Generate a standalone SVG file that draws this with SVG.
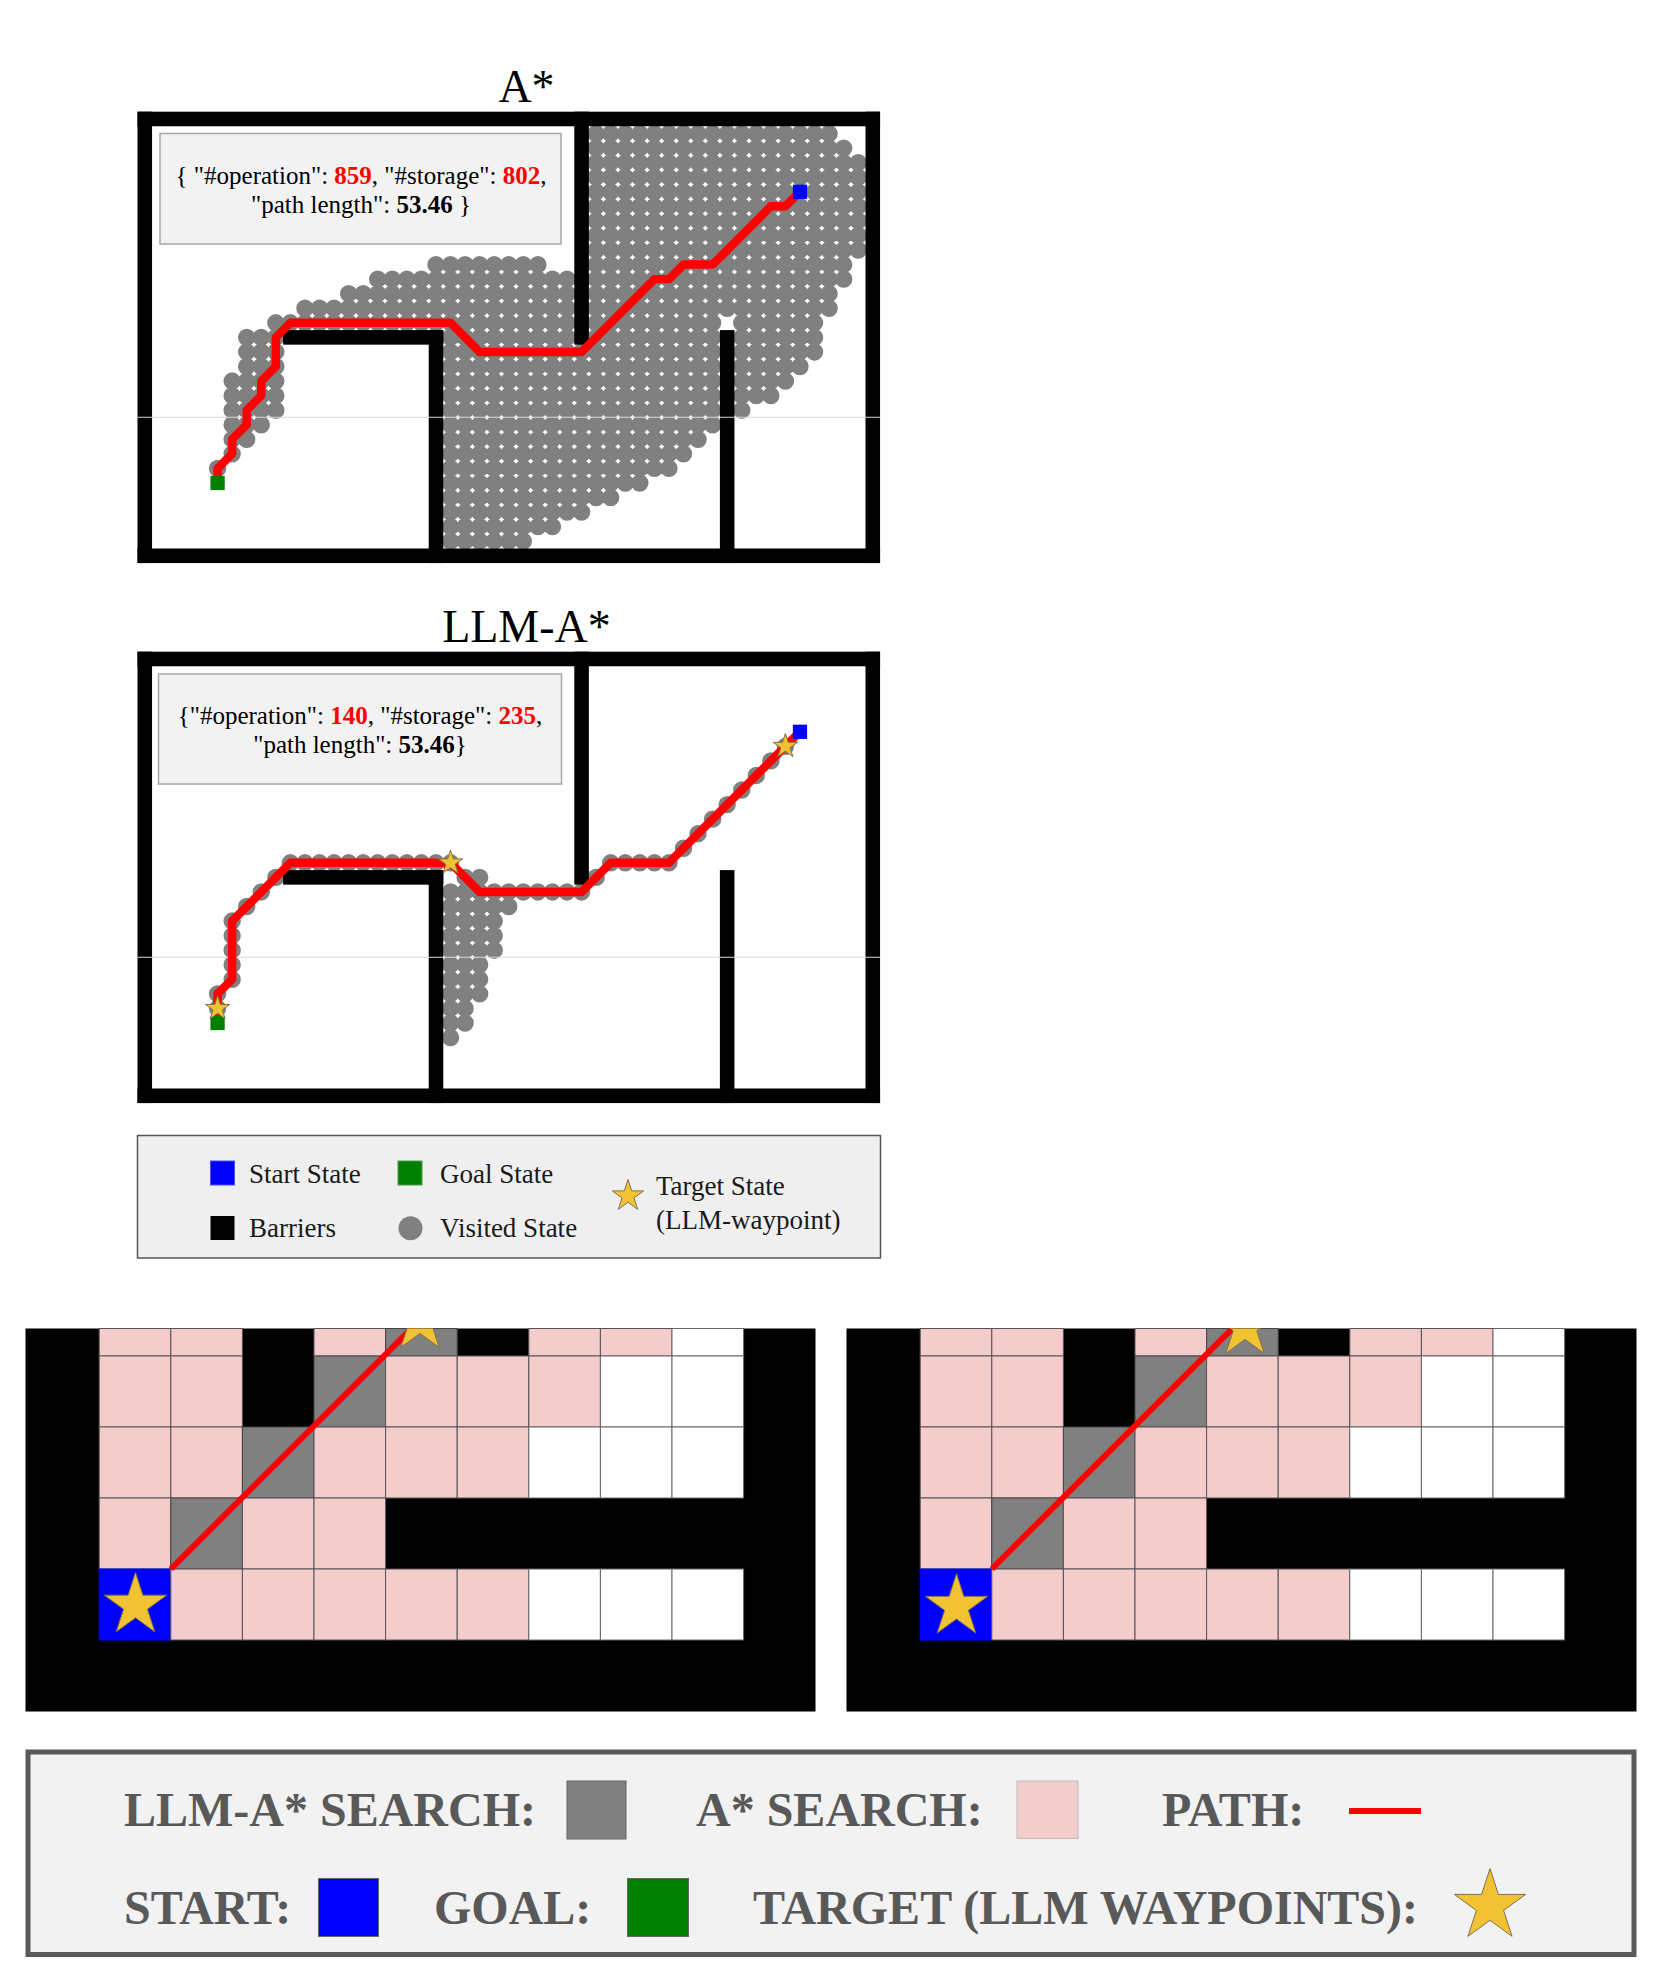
<svg xmlns="http://www.w3.org/2000/svg" width="1661" height="1985" viewBox="0 0 1661 1985">
<defs>
<style>
.serif{font-family:"Liberation Serif","Times New Roman",serif}
.wall{fill:#000}
.v{fill:none;stroke:#808080;stroke-width:1.195;stroke-linecap:round;stroke-dasharray:0 1}
.vd{fill:none;stroke:#808080;stroke-width:1.195;stroke-linecap:round;stroke-dasharray:0 1.41421356}
.vc{fill:#808080}
.route{fill:none;stroke:#ff0000;stroke-width:0.58;stroke-linejoin:round;stroke-linecap:round}
.seam{stroke:#d8d8d8;stroke-width:1.1}
.info{fill:#f2f2f2;stroke:#a6a6a6;stroke-width:1.5}
.num{fill:#ff0000;font-weight:bold}
.b{font-weight:bold}
.star{fill:#f1c232;stroke:#807050}
.pink{fill:#f4cccc;stroke:#555;stroke-width:1}
.gcell{fill:#808080;stroke:#444;stroke-width:1}
.wcell{fill:#fff;stroke:#666;stroke-width:1}
.bcell{fill:#0000ff;stroke:#0000ff;stroke-width:1}
.lg1{font-family:"Liberation Serif","Times New Roman",serif;font-size:27px;fill:#1a1a1a}
.lg2{font-family:"Liberation Serif","Times New Roman",serif;font-weight:bold;font-size:48px;fill:#595959}
.pathline{stroke:#ff0000;stroke-width:6}
</style>
<path id="star" d="M0,-1 L0.2245,-0.309 L0.951,-0.309 L0.3633,0.118 L0.588,0.809 L0,0.382 L-0.588,0.809 L-0.3633,0.118 L-0.951,-0.309 L-0.2245,-0.309 Z" vector-effect="non-scaling-stroke" stroke-width="1"/>
<g id="walls" class="wall">
<rect x="-0.5" y="-0.5" width="51" height="1"/>
<rect x="-0.5" y="29.5" width="51" height="1"/>
<rect x="-0.5" y="-0.5" width="1" height="31"/>
<rect x="49.5" y="-0.5" width="1" height="31"/>
<rect x="9.5" y="14.5" width="11" height="1"/>
<rect x="19.5" y="-0.5" width="1" height="16"/>
<rect x="29.5" y="14.5" width="1" height="16"/>
<rect x="39.5" y="-0.5" width="1" height="16"/>
</g>
<g id="cells">
<rect class="pink" x="99.2" y="1328.5" width="71.6" height="27.5"/>
<rect class="pink" x="170.8" y="1328.5" width="71.6" height="27.5"/>
<rect class="pink" x="314" y="1328.5" width="71.6" height="27.5"/>
<rect class="gcell" x="385.6" y="1328.5" width="71.6" height="27.5"/>
<rect class="pink" x="528.8" y="1328.5" width="71.6" height="27.5"/>
<rect class="pink" x="600.4" y="1328.5" width="71.6" height="27.5"/>
<rect class="wcell" x="672" y="1328.5" width="71.6" height="27.5"/>
<rect class="pink" x="99.2" y="1356" width="71.6" height="71"/>
<rect class="pink" x="170.8" y="1356" width="71.6" height="71"/>
<rect class="gcell" x="314" y="1356" width="71.6" height="71"/>
<rect class="pink" x="385.6" y="1356" width="71.6" height="71"/>
<rect class="pink" x="457.2" y="1356" width="71.6" height="71"/>
<rect class="pink" x="528.8" y="1356" width="71.6" height="71"/>
<rect class="wcell" x="600.4" y="1356" width="71.6" height="71"/>
<rect class="wcell" x="672" y="1356" width="71.6" height="71"/>
<rect class="pink" x="99.2" y="1427" width="71.6" height="71"/>
<rect class="pink" x="170.8" y="1427" width="71.6" height="71"/>
<rect class="gcell" x="242.4" y="1427" width="71.6" height="71"/>
<rect class="pink" x="314" y="1427" width="71.6" height="71"/>
<rect class="pink" x="385.6" y="1427" width="71.6" height="71"/>
<rect class="pink" x="457.2" y="1427" width="71.6" height="71"/>
<rect class="wcell" x="528.8" y="1427" width="71.6" height="71"/>
<rect class="wcell" x="600.4" y="1427" width="71.6" height="71"/>
<rect class="wcell" x="672" y="1427" width="71.6" height="71"/>
<rect class="pink" x="99.2" y="1498" width="71.6" height="71"/>
<rect class="gcell" x="170.8" y="1498" width="71.6" height="71"/>
<rect class="pink" x="242.4" y="1498" width="71.6" height="71"/>
<rect class="pink" x="314" y="1498" width="71.6" height="71"/>
<rect class="bcell" x="99.2" y="1569" width="71.6" height="71"/>
<rect class="pink" x="170.8" y="1569" width="71.6" height="71"/>
<rect class="pink" x="242.4" y="1569" width="71.6" height="71"/>
<rect class="pink" x="314" y="1569" width="71.6" height="71"/>
<rect class="pink" x="385.6" y="1569" width="71.6" height="71"/>
<rect class="pink" x="457.2" y="1569" width="71.6" height="71"/>
<rect class="wcell" x="528.8" y="1569" width="71.6" height="71"/>
<rect class="wcell" x="600.4" y="1569" width="71.6" height="71"/>
<rect class="wcell" x="672" y="1569" width="71.6" height="71"/>
</g>
<clipPath id="clipL"><rect x="25.5" y="1328.5" width="790" height="383"/></clipPath>
<clipPath id="clipR"><rect x="846.5" y="1328.5" width="790" height="383"/></clipPath>
</defs>
<rect width="1661" height="1985" fill="#fff"/>

<g id="title-astar"><text class="serif" x="526.5" y="102" font-size="46" text-anchor="middle" fill="#000">A*</text></g>

<g id="map-astar">
<rect x="137.5" y="111.7" width="743" height="451.4" fill="#fff"/>
<g transform="translate(144.78 555.78) scale(14.56 -14.56)">
<g id="astar-visited" class="v">
<line x1="31" y1="29" x2="47.001" y2="29"/>
<line x1="31" y1="28" x2="48.001" y2="28"/>
<line x1="31" y1="27" x2="49.001" y2="27"/>
<line x1="31" y1="26" x2="49.001" y2="26"/>
<line x1="31" y1="25" x2="49.001" y2="25"/>
<line x1="31" y1="24" x2="49.001" y2="24"/>
<line x1="31" y1="23" x2="49.001" y2="23"/>
<line x1="31" y1="22" x2="49.001" y2="22"/>
<line x1="31" y1="21" x2="49.001" y2="21"/>
<line x1="20" y1="20" x2="27.001" y2="20"/>
<line x1="31" y1="20" x2="48.001" y2="20"/>
<line x1="16" y1="19" x2="48.001" y2="19"/>
<line x1="14" y1="18" x2="47.001" y2="18"/>
<line x1="11" y1="17" x2="47.001" y2="17"/>
<line x1="9" y1="16" x2="39.001" y2="16"/>
<line x1="41" y1="16" x2="46.001" y2="16"/>
<line x1="7" y1="15" x2="9.001" y2="15"/>
<line x1="21" y1="15" x2="39.001" y2="15"/>
<line x1="41" y1="15" x2="46.001" y2="15"/>
<line x1="7" y1="14" x2="9.001" y2="14"/>
<line x1="21" y1="14" x2="39.001" y2="14"/>
<line x1="41" y1="14" x2="46.001" y2="14"/>
<line x1="7" y1="13" x2="9.001" y2="13"/>
<line x1="21" y1="13" x2="39.001" y2="13"/>
<line x1="41" y1="13" x2="45.001" y2="13"/>
<line x1="6" y1="12" x2="9.001" y2="12"/>
<line x1="21" y1="12" x2="39.001" y2="12"/>
<line x1="41" y1="12" x2="44.001" y2="12"/>
<line x1="6" y1="11" x2="9.001" y2="11"/>
<line x1="21" y1="11" x2="39.001" y2="11"/>
<line x1="41" y1="11" x2="43.001" y2="11"/>
<line x1="6" y1="10" x2="9.001" y2="10"/>
<line x1="21" y1="10" x2="39.001" y2="10"/>
<line x1="6" y1="9" x2="8.001" y2="9"/>
<line x1="21" y1="9" x2="39.001" y2="9"/>
<line x1="6" y1="8" x2="7.001" y2="8"/>
<line x1="21" y1="8" x2="38.001" y2="8"/>
<line x1="21" y1="7" x2="37.001" y2="7"/>
<line x1="21" y1="6" x2="36.001" y2="6"/>
<line x1="21" y1="5" x2="34.001" y2="5"/>
<line x1="21" y1="4" x2="32.001" y2="4"/>
<line x1="21" y1="3" x2="30.001" y2="3"/>
<line x1="21" y1="2" x2="28.001" y2="2"/>
<line x1="21" y1="1" x2="26.001" y2="1"/>
</g>
<g class="vc">
<circle cx="41" cy="10" r="0.5975"/>
<circle cx="6" cy="7" r="0.5975"/>
<circle cx="5" cy="6" r="0.5975"/>
</g>
<use href="#walls"/>
</g>
<line class="seam" x1="137.5" y1="417.3" x2="880.5" y2="417.3"/>
<g transform="translate(144.78 555.78) scale(14.56 -14.56)">
<polyline id="astar-path" class="route" points="5,5 5,6 6,7 6,8 7,9 7,10 8,11 8,12 9,13 9,15 10,16 21,16 23,14 30,14 35,19 36,19 37,20 39,20 43,24 44,24 45,25"/>
<rect x="44.51" y="24.51" width="0.98" height="0.98" fill="#0000ff"/>
<rect x="4.51" y="4.51" width="0.98" height="0.98" fill="#008000"/>
</g>
<rect class="info" x="160" y="133.5" width="401" height="110.5"/>
<text class="serif" x="361" y="183.5" font-size="25" text-anchor="middle" fill="#000">{ "#operation": <tspan class="num">859</tspan>, "#storage": <tspan class="num">802</tspan>,</text>
<text class="serif" x="361" y="212.5" font-size="25" text-anchor="middle" fill="#000">"path length": <tspan class="b">53.46</tspan> }</text>
</g>

<g id="title-llm"><text class="serif" x="526.5" y="642" font-size="46" text-anchor="middle" fill="#000">LLM-A*</text></g>

<g id="map-llm">
<rect x="137.5" y="651.7" width="743" height="451.4" fill="#fff"/>
<g transform="translate(144.78 1095.78) scale(14.56 -14.56)">
<g id="llm-visited" class="v">
<line x1="5" y1="6" x2="5" y2="7.001"/>
<line x1="6" y1="8" x2="6" y2="12.001"/>
<line x1="10" y1="16" x2="21.001" y2="16"/>
<line x1="32" y1="16" x2="36.001" y2="16"/>
<line x1="22" y1="15" x2="23.001" y2="15"/>
<line x1="21" y1="14" x2="30.001" y2="14"/>
<line x1="21" y1="13" x2="25.001" y2="13"/>
<line x1="21" y1="12" x2="24.001" y2="12"/>
<line x1="21" y1="11" x2="24.001" y2="11"/>
<line x1="21" y1="10" x2="24.001" y2="10"/>
<line x1="21" y1="9" x2="23.001" y2="9"/>
<line x1="21" y1="8" x2="23.001" y2="8"/>
<line x1="21" y1="7" x2="23.001" y2="7"/>
<line x1="21" y1="6" x2="22.001" y2="6"/>
<line x1="21" y1="5" x2="22.001" y2="5"/>
</g>
<g class="vd">
<line x1="7" y1="13" x2="9.001" y2="15.001"/>
<line x1="37" y1="17" x2="44.001" y2="24.001"/>
</g>
<g class="vc">
<circle cx="31" cy="15" r="0.5975"/>
<circle cx="21" cy="4" r="0.5975"/>
</g>
<use href="#walls"/>
</g>
<line class="seam" x1="137.5" y1="957.3" x2="880.5" y2="957.3"/>
<g transform="translate(144.78 1095.78) scale(14.56 -14.56)">
<polyline id="llm-path" class="route" points="5,5 5,7 6,8 6,12 10,16 21,16 23,14 30,14 32,16 36,16 44,24 45,25"/>
<rect x="44.51" y="24.51" width="0.98" height="0.98" fill="#0000ff"/>
<rect x="4.51" y="4.51" width="0.98" height="0.98" fill="#008000"/>
</g>
<use href="#star" class="star" transform="translate(217.6 1008.4) scale(12.8)"/>
<use href="#star" class="star" transform="translate(450.5 862.8) scale(12.8)"/>
<use href="#star" class="star" transform="translate(785.4 746.3) scale(12.8)"/>
<rect class="info" x="158.5" y="674" width="403" height="110"/>
<text class="serif" x="360" y="723.5" font-size="25" text-anchor="middle" fill="#000">{"#operation": <tspan class="num">140</tspan>, "#storage": <tspan class="num">235</tspan>,</text>
<text class="serif" x="360" y="752.5" font-size="25" text-anchor="middle" fill="#000">"path length": <tspan class="b">53.46</tspan>}</text>
</g>

<g id="legend-top">
<rect x="137.5" y="1135.5" width="743" height="122.5" fill="#efefef" stroke="#555" stroke-width="1.5"/>
<rect x="210.5" y="1161" width="24" height="24" fill="#0000ff" stroke="#4d4dff" stroke-width="1"/>
<text class="lg1" x="249" y="1182.5">Start State</text>
<rect x="398" y="1161" width="24" height="24" fill="#008000" stroke="#4d994d" stroke-width="1"/>
<text class="lg1" x="440" y="1182.5">Goal State</text>
<rect x="210.5" y="1216" width="24" height="24" fill="#000"/>
<text class="lg1" x="249" y="1237">Barriers</text>
<circle cx="410.5" cy="1228.3" r="12" fill="#808080"/>
<text class="lg1" x="440" y="1237">Visited State</text>
<use href="#star" class="star" transform="translate(628 1196) scale(16.5)"/>
<text class="lg1" x="656" y="1195">Target State</text>
<text class="lg1" x="656" y="1229">(LLM-waypoint)</text>
</g>

<g id="panel-left">
<rect x="25.5" y="1328.5" width="790" height="383" fill="#000"/>
<use href="#cells"/>
<g clip-path="url(#clipL)">
<line class="pathline" x1="170.8" y1="1569" x2="420" y2="1320"/>
<use href="#star" class="star" transform="translate(420 1321) scale(32.5)"/>
</g>
<use href="#star" class="star" transform="translate(135.5 1605.3) scale(32.8)"/>
</g>

<g id="panel-right">
<rect x="846.5" y="1328.5" width="790" height="383" fill="#000"/>
<use href="#cells" x="821"/>
<g clip-path="url(#clipR)">
<line class="pathline" x1="991.8" y1="1569" x2="1245" y2="1315.8"/>
<use href="#star" class="star" transform="translate(1245 1327) scale(32.5)"/>
</g>
<use href="#star" class="star" transform="translate(956.5 1606.5) scale(32.8)"/>
</g>

<g id="legend-bottom">
<rect x="28" y="1752" width="1606" height="202.5" fill="#f2f2f2" stroke="#595959" stroke-width="5"/>
<text class="lg2" x="124" y="1826">LLM-A* SEARCH:</text>
<rect x="567" y="1781" width="59" height="58" fill="#808080" stroke="#666" stroke-width="1"/>
<text class="lg2" x="696" y="1826">A* SEARCH:</text>
<rect x="1017" y="1781" width="61" height="57.5" fill="#f4cccc" stroke="#bbb" stroke-width="1"/>
<text class="lg2" x="1162" y="1826">PATH:</text>
<line x1="1349" y1="1811" x2="1421" y2="1811" stroke="#ff0000" stroke-width="6"/>
<text class="lg2" x="124" y="1924">START:</text>
<rect x="318.5" y="1878.5" width="60" height="58" fill="#0000ff" stroke="#666" stroke-width="1"/>
<text class="lg2" x="434" y="1924">GOAL:</text>
<rect x="627.5" y="1878.5" width="61" height="58" fill="#008000" stroke="#666" stroke-width="1"/>
<text class="lg2" x="753" y="1924">TARGET (LLM WAYPOINTS):</text>
<use href="#star" class="star" transform="translate(1490 1906) scale(37.5)"/>
</g>
</svg>
